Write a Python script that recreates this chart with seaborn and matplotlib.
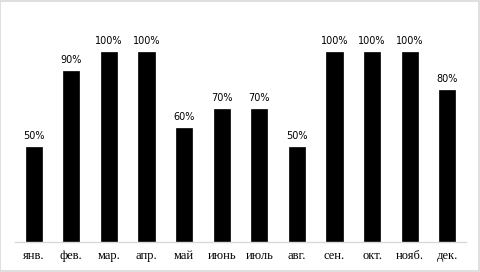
import matplotlib
matplotlib.use("Agg")
import matplotlib.pyplot as plt
import pandas as pd
import seaborn as sns

months = ["янв.", "фев.", "мар.", "апр.", "май", "июнь",
          "июль", "авг.", "сен.", "окт.", "нояб.", "дек."]
shares = [0.5, 0.9, 1.0, 1.0, 0.6, 0.7, 0.7, 0.5, 1.0, 1.0, 1.0, 0.8]

df = pd.DataFrame({"month": months, "share": shares})

sns.set_style("white")
fig = plt.figure(figsize=(4.8, 2.72), dpi=100)
ax = fig.add_axes([15 / 480, 30 / 272, 451 / 480, 190 / 272])

sns.barplot(data=df, x="month", y="share", color="black",
            width=0.43, saturation=1, edgecolor="black", linewidth=0.5, ax=ax)
ax.bar_label(ax.containers[0], labels=[f"{v:.0%}" for v in shares],
             padding=4, fontsize=7, family="DejaVu Sans", color="black")

ax.set_ylim(0, 1.0)
ax.set_xlim(-0.5, len(months) - 0.5)
ax.set_xlabel("")
ax.set_ylabel("")
ax.set_yticks([])
ax.tick_params(axis="x", length=0, pad=6, colors="black")
for lbl in ax.get_xticklabels():
    lbl.set_family("Liberation Serif")
    lbl.set_fontsize(9)
for s in ["top", "right", "left"]:
    ax.spines[s].set_visible(False)
ax.spines["bottom"].set_color("#d9d9d9")
ax.spines["bottom"].set_linewidth(1)

# light grey frame round the whole chart
fig.patches.append(plt.Rectangle((0.001, 0.002), 0.997, 0.995, transform=fig.transFigure,
                                 fill=False, edgecolor="#d9d9d9", linewidth=1.2))

fig.savefig("out.png", dpi=100)
